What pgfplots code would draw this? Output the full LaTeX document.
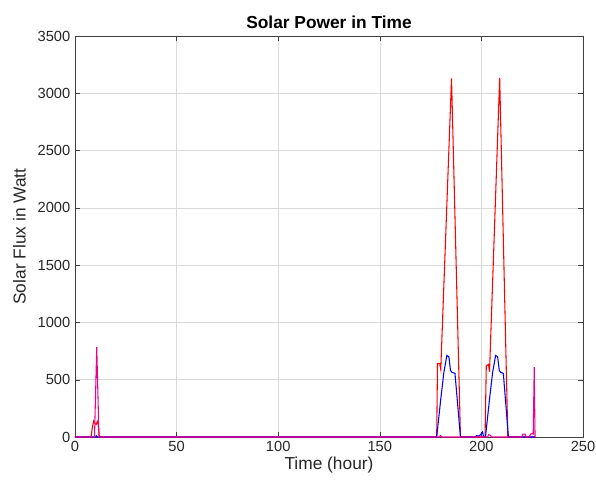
\documentclass[border=0pt]{standalone}
\usepackage{pgfplots}
\pgfplotsset{compat=1.18}
\usepackage{fontspec}
\setmainfont{Liberation Sans}
\begin{document}
\begin{tikzpicture}
\begin{axis}[
  scale only axis,
  width=381pt, height=300.75pt,
  xmin=0, xmax=250, ymin=0, ymax=3500,
  xtick={0,50,...,250}, ytick={0,500,...,3500},
  grid=major,
  major grid style={color=black!15, line width=0.4pt},
  axis line style={color=black!75, line width=0.5pt},
  tick style={color=black!75},
  tick align=inside,
  major tick length=4pt,
  ticklabel style={font=\fontsize{11}{12}\selectfont, color=black!85},
  /pgf/number format/assume math mode=true,
  /pgf/number format/1000 sep={},
  scaled y ticks=false,
  title={\textbf{Solar Power in Time}},
  title style={font=\fontsize{13}{14}\selectfont, yshift=-4pt},
  xlabel={Time (hour)},
  ylabel={Solar Flux in Watt},
  label style={font=\fontsize{13}{14}\selectfont, color=black!85},
  xlabel style={yshift=3pt},
  ylabel style={yshift=2pt},
]
\addplot[color=red, line width=0.8pt] coordinates {
(0,0) (7.9,0) (8.6,90) (9.2,140) (9.8,120) (10.4,110) (11,135) (11.5,100) (12,0)
(178,0) (178.4,640) (179.5,640) (180,590) (185.3,3130) (189.7,0)
(201.8,0) (202.4,620) (203.5,635) (204,570) (209,3135) (213,0) (226.5,0)
};
\addplot[color=blue, line width=0.8pt] coordinates {
(0,0) (10,0) (10.5,10) (11,0)
(178,0) (180,330) (181.5,560) (183,712) (184,700) (184.8,580) (185.5,565) (187,555) (189.7,0)
(197,0) (197.5,12) (198.5,8) (199.5,18) (200.6,45) (201.1,0)
(202,0) (204,330) (205.5,560) (207,712) (208,700) (208.8,580) (209.5,565) (210.8,555) (213.3,0) (226.5,0)
};
\addplot[color=magenta, line width=0.8pt] coordinates {
(0,0) (9.6,0) (10.7,785) (11.8,0)
(179.3,0) (179.9,12) (180.5,0)
(203,0) (203.6,20) (204.4,15) (205,0)
(219.8,0) (220.4,25) (221.5,25) (222,0) (223.5,0) (224.2,25) (225,30) (225.5,25)
(226,610) (226.4,0) (226.5,0)
};
\end{axis}
\pgfresetboundingbox
\path[use as bounding box] ([shift={(-56.25pt,-39pt)}]current axis.south west) rectangle ([shift={(9.75pt,27pt)}]current axis.north east);
\end{tikzpicture}
\end{document}
